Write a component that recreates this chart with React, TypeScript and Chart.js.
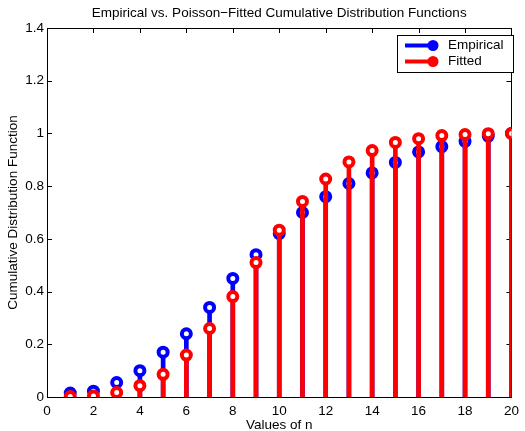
import React, { useEffect, useRef } from "react";
import { Chart, registerables } from "chart.js";

Chart.register(...registerables);

const TITLE = "Empirical vs. Poisson\u2212Fitted Cumulative Distribution Functions";
const X_LABEL = "Values of n";
const Y_LABEL = "Cumulative Distribution Function";
const SERIES_NAMES = ["Empirical", "Fitted"];
const SERIES_COLORS = ["#0000ff", "#ff0000"];

const N_VALUES = [1, 2, 3, 4, 5, 6, 7, 8, 9, 10, 11, 12, 13, 14, 15, 16, 17, 18, 19, 20];
const EMPIRICAL = [0.015, 0.022, 0.055, 0.1, 0.17, 0.24, 0.34, 0.45, 0.54, 0.62, 0.7, 0.76, 0.81, 0.85, 0.89, 0.93, 0.95, 0.97, 0.99, 1.0];
const FITTED = [0.0015, 0.004, 0.017, 0.043, 0.086, 0.159, 0.26, 0.381, 0.51, 0.633, 0.742, 0.827, 0.892, 0.935, 0.966, 0.98, 0.992, 0.996, 0.999, 1.0];

const X_TICKS = [0, 2, 4, 6, 8, 10, 12, 14, 16, 18, 20];
const Y_TICKS = [0, 0.2, 0.4, 0.6, 0.8, 1, 1.2, 1.4];

const FONT = "'Liberation Sans', Arial, Helvetica, sans-serif";
const FS = 13.5;

const framePlugin = {
  id: "matlabFrame",
  beforeDatasetsDraw(chart: any) {
    const { ctx, chartArea: a, scales } = chart;
    ctx.save();
    ctx.strokeStyle = "#000";
    ctx.lineWidth = 1;
    ctx.strokeRect(Math.round(a.left) + 0.5, Math.round(a.top) + 0.5, Math.round(a.right - a.left), Math.round(a.bottom - a.top));
    ctx.beginPath();
    const L = 5;
    X_TICKS.forEach((v) => {
      const px = Math.round(scales.x.getPixelForValue(v)) + 0.5;
      ctx.moveTo(px, a.bottom);
      ctx.lineTo(px, a.bottom - L);
      ctx.moveTo(px, a.top);
      ctx.lineTo(px, a.top + L);
    });
    Y_TICKS.forEach((v) => {
      const py = Math.round(scales.y.getPixelForValue(v)) + 0.5;
      ctx.moveTo(a.left, py);
      ctx.lineTo(a.left + L, py);
      ctx.moveTo(a.right, py);
      ctx.lineTo(a.right - L, py);
    });
    ctx.stroke();
    ctx.restore();
  },
  afterDraw(chart: any) {
    const { ctx, chartArea: a } = chart;
    ctx.save();
    ctx.fillStyle = "#000";
    ctx.font = `${FS}px ${FONT}`;
    ctx.textAlign = "center";
    ctx.textBaseline = "middle";
    const cx = (a.left + a.right) / 2;
    ctx.fillText(TITLE, cx, 13);
    ctx.fillText(X_LABEL, cx, 425);
    ctx.save();
    ctx.translate(13, (a.top + a.bottom) / 2);
    ctx.rotate(-Math.PI / 2);
    ctx.fillText(Y_LABEL, 0, 0);
    ctx.restore();

    // legend
    const bx = 397, by = 35, bw = 116, bh = 37;
    ctx.fillStyle = "#fff";
    ctx.fillRect(bx, by, bw, bh);
    ctx.strokeStyle = "#000";
    ctx.lineWidth = 1;
    ctx.strokeRect(bx + 0.5, by + 0.5, bw, bh);
    SERIES_NAMES.forEach((name, i) => {
      const y = by + 10.5 + i * 16;
      ctx.strokeStyle = SERIES_COLORS[i];
      ctx.lineWidth = 4;
      ctx.beginPath();
      ctx.moveTo(405, y);
      ctx.lineTo(433, y);
      ctx.stroke();
      ctx.fillStyle = SERIES_COLORS[i];
      ctx.beginPath();
      ctx.arc(433, y, 5.5, 0, Math.PI * 2);
      ctx.fill();
      ctx.fillStyle = "#000";
      ctx.textAlign = "left";
      ctx.fillText(name, 448, y);
    });
    ctx.restore();
  },
};

export default function App() {
  const ref = useRef<HTMLCanvasElement | null>(null);
  useEffect(() => {
    if (!ref.current) return;
    const empPts = N_VALUES.map((n, i) => ({ x: n, y: EMPIRICAL[i] }));
    const fitPts = N_VALUES.map((n, i) => ({ x: n, y: FITTED[i] }));
    const marker = (color: string) => ({
      showLine: false,
      pointRadius: 4.5,
      pointBorderWidth: 4,
      pointBorderColor: color,
      pointBackgroundColor: "#fff",
    });
    const chart = new Chart(ref.current, {
      type: "line",
      data: {
        datasets: [
          { type: "line", label: SERIES_NAMES[1] + " markers", data: fitPts, ...marker(SERIES_COLORS[1]), order: 0 } as any,
          { type: "bar", label: SERIES_NAMES[1], data: fitPts, backgroundColor: SERIES_COLORS[1], barThickness: 4, grouped: false, order: 1 } as any,
          { type: "line", label: SERIES_NAMES[0] + " markers", data: empPts, ...marker(SERIES_COLORS[0]), order: 2 } as any,
          { type: "bar", label: SERIES_NAMES[0], data: empPts, backgroundColor: SERIES_COLORS[0], barThickness: 4, grouped: false, order: 3 } as any,
        ],
      },
      options: {
        responsive: false,
        animation: false,
        layout: { padding: { top: 28, right: 9, left: 0, bottom: 0 } },
        plugins: {
          legend: { display: false },
          title: { display: false },
          tooltip: { enabled: false },
        },
        scales: {
          x: {
            type: "linear",
            min: 0,
            max: 20,
            offset: false,
            grid: { display: false, drawTicks: false, tickLength: 0 },
            border: { display: false },
            afterBuildTicks: (s: any) => {
              s.ticks = X_TICKS.map((v) => ({ value: v }));
            },
            afterFit: (s: any) => {
              s.height = 34;
            },
            ticks: {
              padding: 6,
              maxRotation: 0,
              autoSkip: false,
              color: "#000",
              font: { family: FONT, size: FS },
              callback: (v: any) => String(v),
            },
          },
          y: {
            type: "linear",
            min: 0,
            max: 1.4,
            grid: { display: false, drawTicks: false, tickLength: 0 },
            border: { display: false },
            afterBuildTicks: (s: any) => {
              s.ticks = Y_TICKS.map((v) => ({ value: v }));
            },
            afterFit: (s: any) => {
              s.width = 47;
            },
            ticks: {
              padding: 3,
              autoSkip: false,
              color: "#000",
              font: { family: FONT, size: FS },
              callback: (v: any) => String(Number(Number(v).toFixed(1))),
            },
          },
        },
      } as any,
      plugins: [framePlugin],
    });
    return () => chart.destroy();
  }, []);
  return (
    <div style={{ position: "fixed", left: 0, top: 0, width: 525, height: 431, background: "#fff" }}>
      <canvas ref={ref} width={525} height={431} style={{ display: "block" }} />
    </div>
  );
}
